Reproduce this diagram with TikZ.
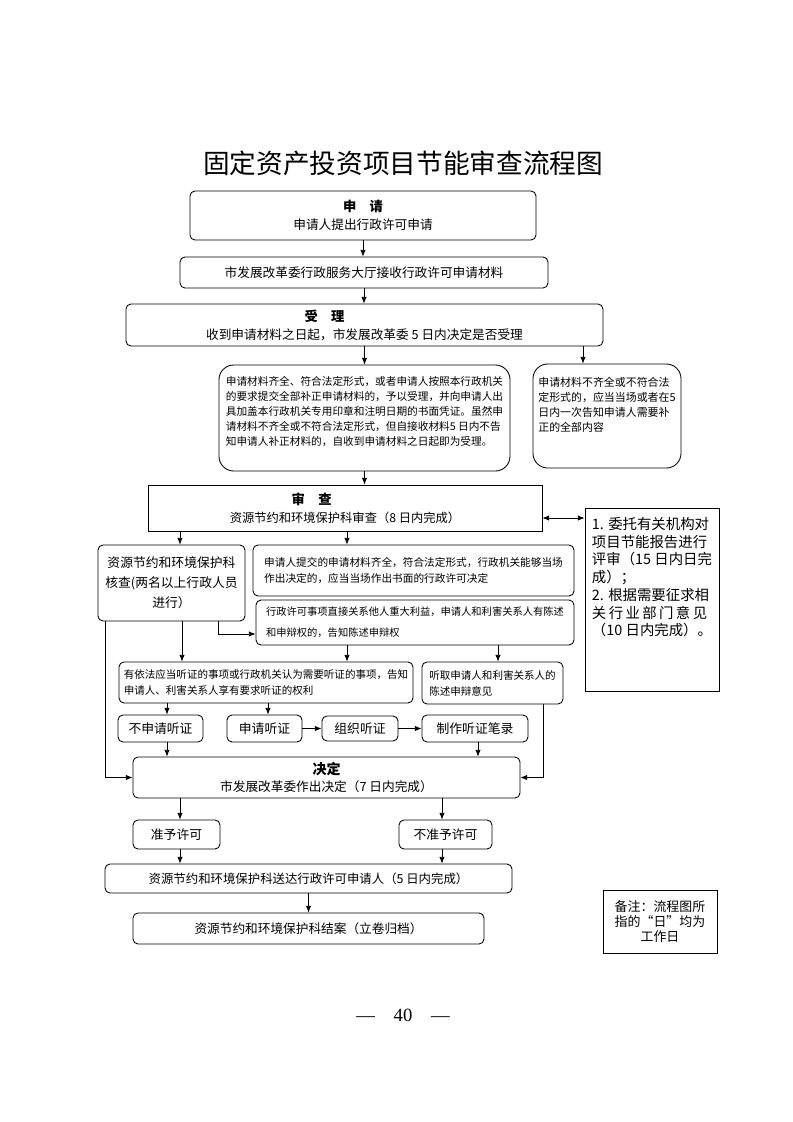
\documentclass[tikz,border=0pt]{standalone}
\usepackage{fontspec}
\setmainfont{Noto Sans CJK SC}
\newfontfamily\pagenumfont{Liberation Serif}
\usetikzlibrary{arrows.meta}

\tikzset{
  box/.style={draw, line width=0.65pt, rounded corners=3.75pt, inner sep=1.5pt},
  bigbox/.style={box, rounded corners=11pt},
  sqbox/.style={draw, line width=0.65pt, inner sep=1.5pt},
  wh/.style 2 args={minimum width=#1*0.75pt, minimum height=#2*0.75pt},
  fs/.style 2 args={font=\fontsize{#1}{#2}\selectfont},
  arr/.style={-{Latex[length=5pt,width=4pt]}, line width=0.6pt},
  dblarr/.style={{Latex[length=5pt,width=4pt]}-{Latex[length=5pt,width=4pt]}, line width=0.6pt},
}

\begin{document}
\begin{tikzpicture}[x=0.75pt,y=-0.75pt]
\useasboundingbox (0,0) rectangle (793,1122);

% columns and rows of the connectors
\coordinate (c105) at (105,0);
\coordinate (c167) at (167,0);
\coordinate (c180) at (180,0);
\coordinate (c182) at (182,0);
\coordinate (c218) at (218,0);
\coordinate (c268) at (268,0);
\coordinate (c347) at (347,0);
\coordinate (c442) at (442,0);
\coordinate (c478) at (478,0);
\coordinate (c498) at (498,0);
\coordinate (c543) at (543,0);
\coordinate (c583) at (583,0);
\coordinate (r518) at (0,518);
\coordinate (r634) at (0,634);

\node[font=\fontsize{20}{24}\selectfont] (title) at (403,163) {固定资产投资项目节能审查流程图};

\node[box,wh={346}{49},fs={9.5}{13.5},align=center] (shenqing) at (363,215.5)
  {{\bfseries\fontsize{10}{13.5}\selectfont 申\hspace{1em}请}\\申请人提出行政许可申请};
\node[box,wh={368}{31},fs={9.5}{12}] (jieshou) at (364,272.5)
  {市发展改革委行政服务大厅接收行政许可申请材料};
\node[box,wh={477}{42},fs={9.5}{13.5},align=center] (shouli) at (364.5,325)
  {{\bfseries\fontsize{10}{13.5}\selectfont 受\hspace{1em}理}\hspace*{60pt}\\收到申请材料之日起，市发展改革委 5 日内决定是否受理};

\node[bigbox,wh={291}{106},fs={8}{11.25},align=left] (qiquan) at (364.5,418)
  {申请材料齐全、符合法定形式，或者申请人按照本行政机关\\
   的要求提交全部补正申请材料的，予以受理，并向申请人出\\
   具加盖本行政机关专用印章和注明日期的书面凭证。虽然申\\
   请材料不齐全或不符合法定形式，但自接收材料5 日内不告\\
   知申请人补正材料的，自收到申请材料之日起即为受理。\\\mbox{}};
\node[bigbox,wh={148}{104},fs={8.2}{11.25},align=left] (buqi) at (607,416)
  {申请材料不齐全或不符合法\\
   定形式的，应当当场或者在5\\
   日内一次告知申请人需要补\\
   正的全部内容\\[6.75pt]\mbox{}};

\node[sqbox,wh={394}{46},fs={9.2}{13.5},align=center] (shencha) at (345,508)
  {{\bfseries\fontsize{10}{13.5}\selectfont 审\hspace{1em}查}\hspace*{50pt}\\资源节约和环境保护科审查（8 日内完成）};
\node[sqbox,wh={134}{183},fs={10.8}{13.3},align=left] (weituo) at (652,599.5)
  {1. 委托有关机构对\\
   项目节能报告进行\\
   评审（15 日内日完\\
   成）；\\
   2. 根据需要征求相\\
   \makebox[8em][l]{关\hfill 行\hfill 业\hfill 部\hfill 门\hfill 意\hfill 见}\\
   （10 日内完成）。\\[21pt]\mbox{}};

\node[box,wh={147}{76},fs={9.6}{15},align=center] (hecha) at (171.5,583)
  {资源节约和环境保护科\\核查(两名以上行政人员\\进行）};
\node[box,wh={321}{51},fs={8}{12.5},align=left] (dangchang) at (413.5,570.5)
  {申请人提交的申请材料齐全，符合法定形式，行政机关能够当场\\
   作出决定的，应当当场作出书面的行政许可决定};
\node[box,wh={318}{45},fs={7.7}{15.75},align=left] (shenbian) at (415,622.5)
  {行政许可事项直接关系他人重大利益，申请人和利害关系人有陈述\\
   和申辩权的，告知陈述申辩权};

\node[box,wh={294}{41},fs={7.9}{12},align=left] (tingzheng) at (266,682.5)
  {有依法应当听证的事项或行政机关认为需要听证的事项，告知\\
   申请人、利害关系人享有要求听证的权利};
\node[box,wh={141}{42},fs={7.9}{12},align=left] (tingqu) at (492.5,683)
  {听取申请人和利害关系人的\\陈述申辩意见};

\node[box,wh={85}{27},fs={9.6}{12}] (bushen) at (160.5,728.5) {不申请听证};
\node[box,wh={75}{27},fs={9.6}{12}] (shenqingtz) at (264.5,728.5) {申请听证};
\node[box,wh={76}{25},fs={9.6}{12}] (zuzhi) at (360,728.5) {组织听证};
\node[box,wh={106}{27},fs={9.6}{12}] (bilu) at (475,728.5) {制作听证笔录};

\node[box,wh={387}{41},fs={9.5}{12.75},align=center] (jueding) at (326.5,777.5)
  {{\bfseries\fontsize{10.5}{12.75}\selectfont 决定}\\市发展改革委作出决定（7 日内完成）};

\node[box,wh={87}{29},fs={9.6}{12}] (zhunyu) at (176.5,834.5) {准予许可};
\node[box,wh={93}{29},fs={9.6}{12}] (buzhun) at (445.5,834.5) {不准予许可};
\node[box,wh={407}{29},fs={9.3}{12}] (songda) at (308.5,878.5)
  {资源节约和环境保护科送达行政许可申请人（5 日内完成）};
\node[box,wh={351}{31},fs={9.5}{12}] (jiean) at (308.5,928.5)
  {资源节约和环境保护科结案（立卷归档）};

\node[sqbox,wh={114}{63},fs={9.7}{11.25},align=center] (beizhu) at (660,921.5)
  {备注：流程图所\\指的“日”均为\\工作日};

\node[font=\pagenumfont\fontsize{14}{16}\selectfont] (yema) at (403,1015) {—\quad 40\quad —};

% connectors
\draw[arr] (shenqing.south) -- (shenqing.south |- jieshou.north);
\draw[arr] (jieshou.south) -- (jieshou.south |- shouli.north);
\draw[arr] (shouli.south -| qiquan.north) -- (qiquan.north);
\draw[arr] (shouli.south -| c583) -- (buqi.north -| c583);
\draw[arr] (qiquan.south) -- (qiquan.south |- shencha.north);
\draw[dblarr] (shencha.east |- r518) -- (weituo.west |- r518);
\draw[arr] (shencha.south -| c180) -- (hecha.north -| c180);
\draw[arr] (shencha.south -| c347) -- (dangchang.north -| c347);
\draw[arr] (hecha.south -| c105) |- (jueding.west);
\draw[arr] (hecha.south -| c182) -- (tingzheng.north -| c182);
\draw[arr] (hecha.south -| c218) |- (shenbian.west |- r634);
\draw[arr] (shenbian.south -| c347) -- (tingzheng.north -| c347);
\draw[arr] (shenbian.south -| c498) -- (tingqu.north -| c498);
\draw[arr] (tingzheng.south -| c167) -- (bushen.north -| c167);
\draw[arr] (tingzheng.south -| c268) -- (shenqingtz.north -| c268);
\draw[arr] (shenqingtz.east) -- (zuzhi.west);
\draw[arr] (zuzhi.east) -- (bilu.west);
\draw[arr] (bushen.south -| c167) -- (jueding.north -| c167);
\draw[arr] (bilu.south -| c478) -- (jueding.north -| c478);
\draw[arr] (tingqu.south -| c543) |- (jueding.east);
\draw[arr] (jueding.south -| c180) -- (zhunyu.north -| c180);
\draw[arr] (jueding.south -| c442) -- (buzhun.north -| c442);
\draw[arr] (zhunyu.south -| c180) -- (songda.north -| c180);
\draw[arr] (buzhun.south -| c442) -- (songda.north -| c442);
\draw[arr] (songda.south) -- (songda.south |- jiean.north);
\end{tikzpicture}
\end{document}
